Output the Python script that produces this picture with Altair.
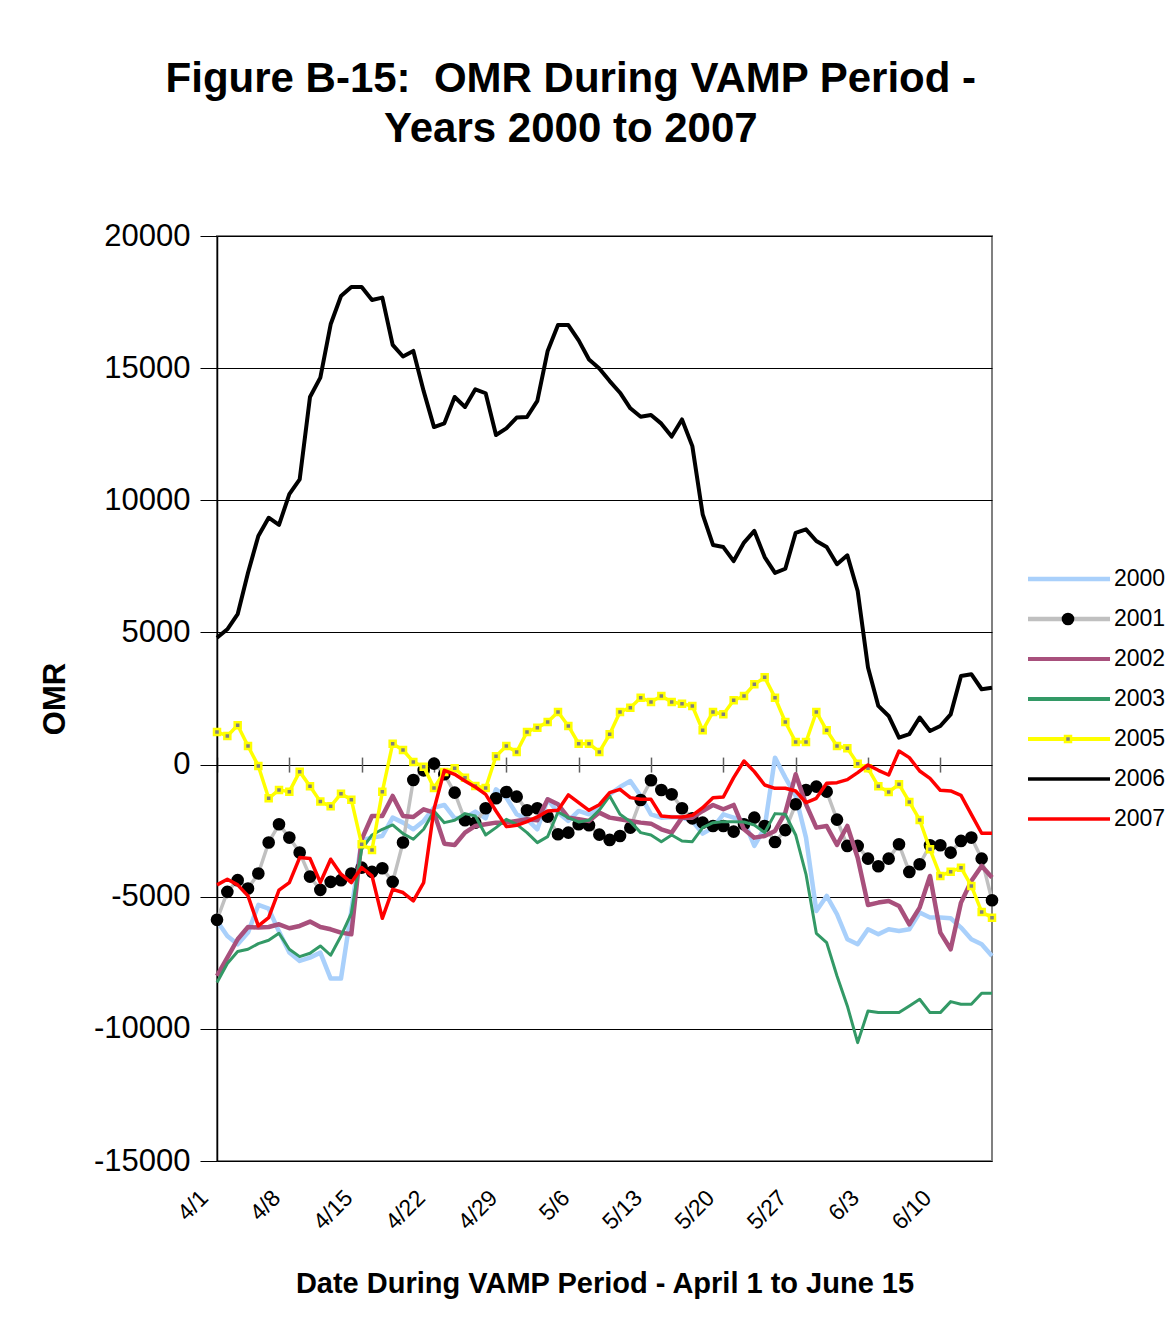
import altair as alt
import pandas as pd

FONT = "Liberation Sans"

days = list(range(76))
tick_days = [0, 7, 14, 21, 28, 35, 42, 49, 56, 63, 70]
tick_labels = ["4/1", "4/8", "4/15", "4/22", "4/29", "5/6", "5/13", "5/20", "5/27", "6/3", "6/10"]
y_ticks = [-15000, -10000, -5000, 0, 5000, 10000, 15000, 20000]
years = ["2000", "2001", "2002", "2003", "2005", "2006", "2007"]

omr_2000 = [-5916, -6484, -6800, -6358, -5311, -5450, -6320, -7115, -7430, -7304,
            -7115, -8099, -8099, -5538, -2865, -2765, -2702, -2008, -2197, -2449,
            -2134, -1629, -1528, -2033, -2008, -1781, -2033, -936, -1251, -1881,
            -2071, -2449, -1314, -1818, -2134, -1755, -1881, -1630, -1125, -848,
            -621, -1188, -1881, -2008, -1982, -2008, -2134, -2613, -2386, -1881,
            -2008, -2134, -3080, -2386, 262, -494, -1188, -2765, -5538, -4970,
            -5664, -6610, -6800, -6232, -6421, -6232, -6295, -6232, -5601, -5790,
            -5790, -5815, -6169, -6610, -6800, -7241]
omr_2001 = [-5875, -4816, -4375, -4690, -4122, -2949, -2259, -2762, -3330, -4237,
            -4741, -4438, -4375, -4122, -3899, -4060, -3924, -4438, -2949, -582,
            -217, 35, -368, -1062, -2108, -2197, -1654, -1276, -1037, -1213,
            -1730, -1654, -1970, -2638, -2575, -2259, -2297, -2650, -2852, -2701,
            -2386, -1339, -595, -961, -1125, -1654, -2033, -2197, -2323, -2323,
            -2537, -2259, -2007, -2323, -2928, -2480, -1502, -961, -834, -1024,
            -2083, -3079, -3079, -3558, -3848, -3558, -3016, -4063, -3773, -3054,
            -3054, -3332, -2890, -2763, -3558, -5135]
omr_2002 = [-7996, -7302, -6610, -6144, -6169, -6144, -6043, -6194, -6106, -5942,
            -6144, -6232, -6358, -6421, -2828, -1945, -1945, -1188, -1945, -1982,
            -1692, -1818, -2992, -3043, -2575, -2323, -2260, -2197, -2197, -2134,
            -2071, -2109, -1314, -1503, -2008, -2071, -2134, -1818, -2008, -2071,
            -2134, -2197, -2235, -2449, -2575, -2008, -2008, -1755, -1528, -1692,
            -1528, -2449, -2765, -2702, -2512, -1818, -368, -1503, -2386, -2323,
            -3043, -2323, -3523, -5311, -5222, -5160, -5349, -6043, -5412, -4214,
            -6358, -6989, -5223, -4403, -3836, -4277]
omr_2003 = [-8249, -7530, -7076, -6988, -6773, -6647, -6382, -6988, -7266, -7140,
            -6862, -7215, -6484, -5627, -3206, -2664, -2449, -2285, -2613, -2827,
            -2449, -1755, -2197, -2108, -1856, -1945, -2664, -2386, -2071, -2260,
            -2575, -2953, -2726, -1793, -2007, -2171, -2108, -1720, -1188, -1881,
            -2159, -2575, -2664, -2916, -2664, -2890, -2916, -2386, -2197, -2159,
            -2159, -2171, -2285, -2575, -1856, -1881, -2664, -4152, -6384, -6737,
            -7998, -9133, -10520, -9322, -9385, -9385, -9385, -9133, -8880, -9385,
            -9385, -8969, -9070, -9070, -8654, -8654]
omr_2005 = [1233, 1082, 1485, 704, -53, -1276, -961, -1024, -267, -822,
            -1402, -1579, -1100, -1327, -3017, -3231, -1024, 792, 552, 98,
            -78, -885, -280, -141, -494, -810, -885, 313, 704, 477,
            1233, 1397, 1611, 1990, 1460, 792, 792, 477, 1144, 1990,
            2153, 2532, 2368, 2595, 2368, 2305, 2217, 1296, 1990, 1901,
            2431, 2595, 3036, 3300, 2532, 1611, 855, 855, 1990, 1296,
            704, 615, 35, -141, -822, -1037, -747, -1415, -2096, -3206,
            -4215, -4051, -3900, -4593, -5577, -5792]
omr_2006 = [4800, 5120, 5690, 7260, 8650, 9340, 9070, 10230, 10790, 13910,
            14640, 16660, 17730, 18070, 18070, 17580, 17670, 15880, 15440, 15650,
            14130, 12770, 12910, 13910, 13530, 14200, 14050, 12470, 12720, 13130,
            13150, 13760, 15650, 16630, 16630, 16050, 15330, 14990, 14510, 14070,
            13480, 13160, 13230, 12900, 12410, 13060, 12050, 9470, 8310, 8230,
            7700, 8400, 8840, 7850, 7250, 7410, 8770, 8900, 8460, 8230,
            7580, 7920, 6570, 3670, 2220, 1840, 1020, 1150, 1780, 1270,
            1460, 1900, 3350, 3420, 2850, 2910]
omr_2007 = [-4552, -4338, -4552, -4968, -6104, -5788, -4754, -4464, -3519, -3556,
            -4464, -3581, -4148, -4464, -3896, -4212, -5818, -4720, -4842, -5160,
            -4466, -1692, -219, -368, -620, -847, -1125, -1756, -2348, -2298,
            -2159, -1982, -1756, -1730, -1150, -1440, -1730, -1520, -1062, -936,
            -1251, -1314, -1314, -1945, -1982, -1982, -1919, -1630, -1251, -1226,
            -494, 136, -267, -772, -898, -898, -999, -1440, -1276, -709,
            -684, -570, -305, -15, -217, -394, 514, 262, -242, -520,
            -974, -999, -1163, -1882, -2600, -2600]

series = [omr_2000, omr_2001, omr_2002, omr_2003, omr_2005, omr_2006, omr_2007]
colors = ["#a9d0fb", "#c0c0c0", "#a8507c", "#339966", "#ffff00", "#000000", "#ff0000"]
widths = [4.5, 3.5, 4.5, 3, 3.5, 4, 3.5]

rows = []
for yr, vals in zip(years, series):
    for d, v in zip(days, vals):
        rows.append({"day": d, "omr": v, "year": yr})
df = pd.DataFrame(rows)

# label expression built from tick arrays
expr = "''"
for d, lab in reversed(list(zip(tick_days, tick_labels))):
    expr = f"datum.value == {d} ? '{lab}' : ({expr})"

W, H = 775, 925
x_scale = alt.Scale(domain=[0, 75], nice=False, zero=False)
y_scale = alt.Scale(domain=[-15000, 20000], nice=False)

y_axis = alt.Axis(values=y_ticks, labelExpr="'' + datum.value", title="OMR", grid=True,
                  gridColor="#000000", gridWidth=1,
                  domainColor="#000000", domainWidth=1.5, tickColor="#000000", tickSize=17,
                  tickWidth=1, labelFont=FONT, labelFontSize=31, labelColor="#000000",
                  labelPadding=10, titleFont=FONT, titleFontSize=31, titleFontWeight="bold",
                  titleColor="#000000", titleAngle=-90, titleX=-162, titleY=H / 2,
                  titleAlign="center", titleBaseline="middle")

x_axis_main = alt.Axis(values=tick_days, labelExpr=expr, labelAngle=-45, labelAlign="right",
                       labelBaseline="middle", ticks=False, tickSize=0, domain=False, grid=False,
                       labelFont=FONT, labelFontSize=23, labelColor="#000000", labelPadding=33,
                       labelOffset=-13, labelFlush=False, labelOverlap=False,
                       title="Date During VAMP Period - April 1 to June 15",
                       titleFont=FONT, titleFontSize=29, titleFontWeight="bold", titleColor="#000000",
                       titleY=122, titleBaseline="middle", orient="bottom")

zero_offset = -(H * 15 / 35 + 7.5)
x_axis_ticks = alt.Axis(values=tick_days, labels=False, ticks=True, tickSize=15, tickColor="#606060",
                        tickWidth=1.5, domain=False, grid=False, title=None, orient="bottom",
                        offset=zero_offset)

Y = alt.Y("omr:Q", scale=y_scale, axis=y_axis)


def line_layer(yr, color, width, axis=None):
    return alt.Chart(df).transform_filter(alt.datum.year == yr).mark_line(
        color=color, strokeWidth=width, strokeJoin="round"
    ).encode(x=alt.X("day:Q", scale=x_scale, axis=axis), y=Y)


layers = [
    line_layer("2000", colors[0], widths[0], x_axis_main),
    line_layer("2001", colors[1], widths[1], x_axis_ticks),
    alt.Chart(df).transform_filter(alt.datum.year == "2001").mark_circle(
        color="#000000", size=160, opacity=1
    ).encode(x=alt.X("day:Q", scale=x_scale, axis=None), y=Y),
    line_layer("2002", colors[2], widths[2]),
    line_layer("2003", colors[3], widths[3]),
    line_layer("2005", colors[4], widths[4]),
    alt.Chart(df).transform_filter(alt.datum.year == "2005").mark_square(
        fill="#808080", stroke="#ffff00", strokeWidth=2.5, size=36, opacity=1
    ).encode(x=alt.X("day:Q", scale=x_scale, axis=None), y=Y),
    line_layer("2006", colors[5], widths[5]),
    line_layer("2007", colors[6], widths[6]),
]

main = alt.layer(*layers).resolve_axis(x="independent").properties(
    width=W, height=H, view=alt.ViewBackground(stroke="#808080", strokeWidth=2)
)

# legend panel
leg_df = pd.DataFrame({"year": years})
LY = alt.Y("year:N", scale=alt.Scale(type="point", domain=years, range=[343, 583], padding=0), axis=None)
leg_color = alt.Color("year:N", scale=alt.Scale(domain=years, range=colors), legend=None)
leg_width = alt.StrokeWidth("year:N", scale=alt.Scale(domain=years, range=widths), legend=None)

leg_rules = alt.Chart(leg_df).mark_rule().encode(
    y=LY, x=alt.value(22), x2=alt.value(104), color=leg_color, strokeWidth=leg_width
)
leg_dot = alt.Chart(leg_df).transform_filter(alt.datum.year == "2001").mark_circle(
    color="#000000", size=160, opacity=1
).encode(y=LY, x=alt.value(62))
leg_sq = alt.Chart(leg_df).transform_filter(alt.datum.year == "2005").mark_square(
    fill="#808080", stroke="#ffff00", strokeWidth=2.5, size=36, opacity=1
).encode(y=LY, x=alt.value(62))
leg_text = alt.Chart(leg_df).mark_text(
    align="left", baseline="middle", font=FONT, fontSize=23, color="#000000"
).encode(y=LY, x=alt.value(108), text="year:N")

legend = alt.layer(leg_rules, leg_dot, leg_sq, leg_text).properties(
    width=150, height=H, view=alt.ViewBackground(stroke="transparent")
)

chart = alt.hconcat(main, legend, spacing=4).properties(
    title=alt.TitleParams(
        ["Figure B-15:\u00a0 OMR During VAMP Period -", "Years 2000 to 2007"],
        font=FONT, fontSize=42, fontWeight="bold", color="#000000", lineHeight=50,
        anchor="middle", dx=-31, offset=68
    ),
    padding={"left": 30, "top": 50, "right": 0, "bottom": 5},
).configure(background="white")

chart.save("out.html", embed_options={"renderer": "svg", "actions": False})
